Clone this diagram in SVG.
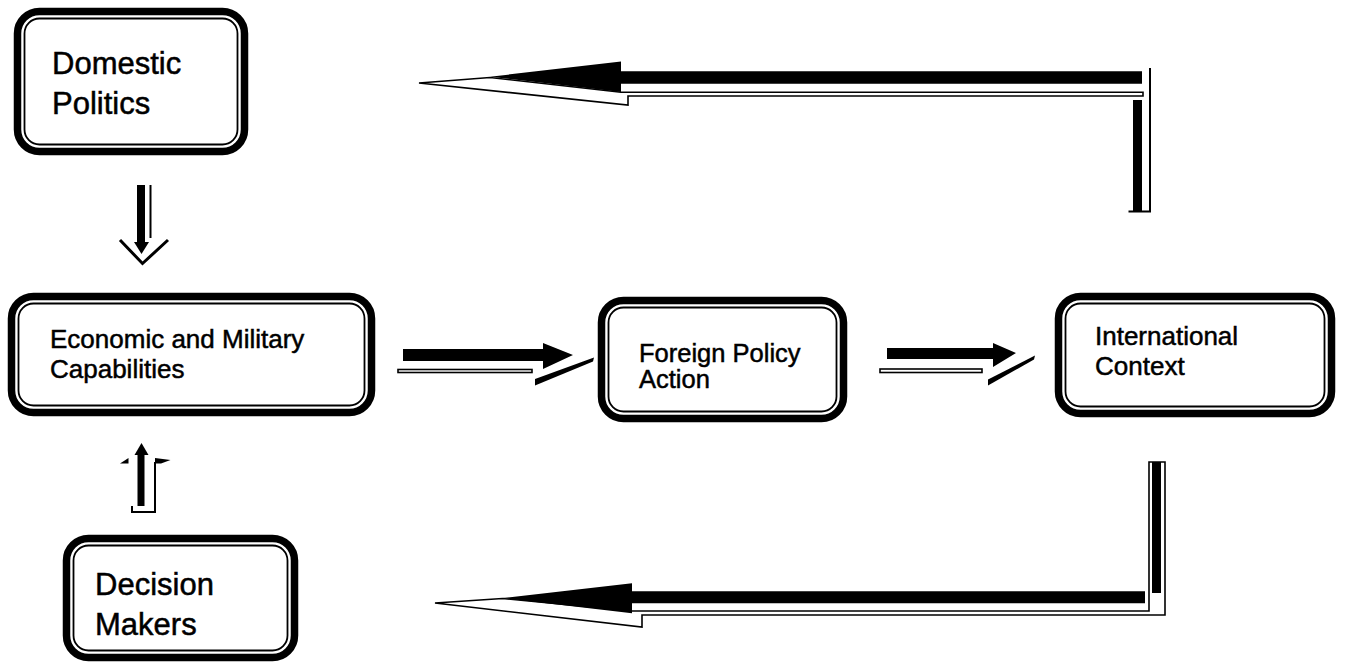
<svg xmlns="http://www.w3.org/2000/svg" width="1347" height="663" viewBox="0 0 1347 663">
<style>
.ob{fill:#fff;stroke:#000;stroke-width:7.5}
.ib{fill:none;stroke:#000;stroke-width:1.8}
.t{font-family:"Liberation Sans",Arial,sans-serif;fill:#000;stroke:#000;stroke-width:0.5}
.blk{fill:#000;stroke:none}
.sh{fill:#fff;stroke:#000;stroke-width:1.6;stroke-linejoin:miter}
.ln{fill:none;stroke:#000;stroke-width:2}
</style>
<rect width="1347" height="663" fill="#fff"/>
<g id="connectors">
  <!-- top elbow arrow: International -> Domestic -->
  <polygon class="sh" points="419,83 490,77.5 621,92.3 1143,92.3 1143,96 628,96 628,105"/>
  <polygon class="blk" points="490,76.7 621,61.5 621,71.2 1142,71.2 1142,83.8 621,83.8 621,92"/>
  <rect class="blk" x="1133" y="100" width="9" height="111"/>
  <path class="ln" d="M1150,68 V211.5 H1128.5"/>
  <!-- bottom elbow arrow: International -> Decision Makers -->
  <polygon class="sh" points="435,603 502.5,598.5 632,611 1149,611 1149,462 1165,462 1165,615 642,615 642,627"/>
  <polygon class="blk" points="502.5,598 632,583.3 632,591.2 1145,591.2 1145,603.2 632,603.2 632,613.3"/>
  <rect class="blk" x="1152" y="462" width="9" height="131"/>
  <!-- Economic -> Foreign Policy -->
  <rect class="sh" x="398" y="369.5" width="134" height="3" stroke-width="1.3"/>
  <polygon class="blk" points="573,355 543,343 543,349 403,349 403,361 543,361 543,369"/>
  <polygon class="blk" points="535,379 594,357.5 593,361.5 535,385.5"/>
  <!-- Foreign Policy -> International -->
  <rect class="sh" x="880" y="369" width="102" height="3.5" stroke-width="1.3"/>
  <polygon class="blk" points="1016,353 993,343 993,348 887,348 887,359 993,359 993,367"/>
  <polygon class="blk" points="988,379.5 1035,355.5 1034,359.5 988,385.5"/>
  <!-- Domestic -> Economic (down) -->
  <line class="ln" x1="150.5" y1="185" x2="150.5" y2="238"/>
  <polyline points="120,240 142.5,263.5 168,240" fill="none" stroke="#000" stroke-width="3"/>
  <rect class="blk" x="137" y="185" width="8" height="58"/>
  <polygon class="blk" points="134,242 149,242 141.5,254"/>
  <!-- Decision Makers -> Economic (up) -->
  <path class="ln" d="M155,462 V512 H132 V506"/>
  <polygon class="blk" points="120,463.5 128.5,458 128.5,463.5"/>
  <polygon class="blk" points="155,458 170.5,460 161,463.5 155,463.5"/>
  <polygon class="blk" points="141.5,443 134.5,455 148.5,455"/>
  <rect class="blk" x="137.5" y="454" width="7" height="52"/>
</g>
<g id="domestic-politics">
  <rect class="ob" x="17.5" y="11.5" width="227" height="140" rx="22"/>
  <rect class="ib" x="24.5" y="18.5" width="213" height="126" rx="15"/>
  <text class="t" x="52" y="74" font-size="31">Domestic</text>
  <text class="t" x="52" y="114" font-size="31">Politics</text>
</g>
<g id="economic-military">
  <rect class="ob" x="11.5" y="296.5" width="360" height="116" rx="22"/>
  <rect class="ib" x="18.5" y="303.5" width="346" height="102" rx="15"/>
  <text class="t" x="50" y="348" font-size="26">Economic and Military</text>
  <text class="t" x="50" y="378" font-size="26">Capabilities</text>
</g>
<g id="foreign-policy-action">
  <rect class="ob" x="601.5" y="300.5" width="242" height="118" rx="22"/>
  <rect class="ib" x="608.5" y="307.5" width="228" height="104" rx="15"/>
  <text class="t" x="639" y="362" font-size="25.5">Foreign Policy</text>
  <text class="t" x="639" y="388" font-size="25.5">Action</text>
</g>
<g id="international-context">
  <rect class="ob" x="1058.5" y="296.5" width="273" height="117" rx="22"/>
  <rect class="ib" x="1065.5" y="303.5" width="259" height="103" rx="15"/>
  <text class="t" x="1095" y="345" font-size="26">International</text>
  <text class="t" x="1095" y="375" font-size="26">Context</text>
</g>
<g id="decision-makers">
  <rect class="ob" x="66.5" y="538.5" width="228" height="119" rx="22"/>
  <rect class="ib" x="73.5" y="545.5" width="214" height="105" rx="15"/>
  <text class="t" x="95" y="595" font-size="31">Decision</text>
  <text class="t" x="95" y="635" font-size="31">Makers</text>
</g>
</svg>
